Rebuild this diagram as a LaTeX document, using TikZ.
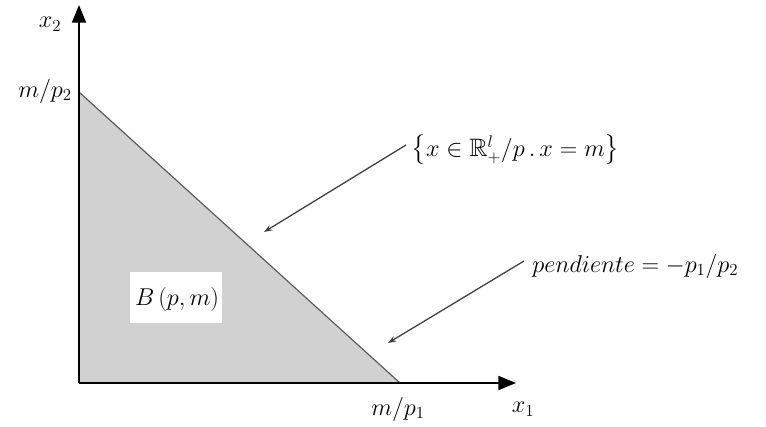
\documentclass[tikz,border=0pt]{standalone}
\usepackage{amssymb}
\usetikzlibrary{arrows.meta}
\begin{document}
\begin{tikzpicture}[x=0.03cm,y=-0.03cm,
  axis/.style={line width=1.3pt,-{Triangle[length=15pt,width=12pt]}},
  pointer/.style={draw=black!75,line width=1.1pt,-{Stealth[length=7pt,width=5pt]}},
  lbl/.style={inner sep=1pt,font=\fontsize{21.5}{26}\selectfont}]
\useasboundingbox (0,0) rectangle (766,427);
\coordinate (O) at (79,383);
\coordinate (T) at (79,92);
\coordinate (R) at (400,383);
\fill[black!18] (O) -- (T) -- (R) -- cycle;
\draw[black!65,line width=1pt] (T) -- (R);
\node[fill=white,inner sep=0pt,minimum width=2.76cm,minimum height=1.53cm] (B) at (176,297) {};
\node[lbl] (Bt) at (177,299) {$B\,(p,m)$};
\coordinate (Ye) at (79,5);
\coordinate (Xe) at (516,383);
\draw[axis] (O) -- (Ye);
\draw[axis] (O) -- (Xe);
\node[lbl] (x2) at (50,24) {$x_2$};
\node[lbl] (x1) at (523,409) {$x_1$};
\node[lbl] (mp2) at (45,91) {$m/p_2$};
\node[lbl] (mp1) at (398,409) {$m/p_1$};
\node[lbl,anchor=west] (set) at (410,150) {$\left\{x\in\mathbb{R}^{l}_{+}/p\,.\,x=m\right\}$};
\node[lbl,anchor=west] (pend) at (531,266) {$pendiente=-p_1/p_2$};
\coordinate (s1) at (406,145);
\coordinate (s2) at (524,261);
\coordinate (a1) at (264,232);
\coordinate (a2) at (388,343);
\draw[pointer] (s1) -- (a1);
\draw[pointer] (s2) -- (a2);
\end{tikzpicture}
\end{document}
